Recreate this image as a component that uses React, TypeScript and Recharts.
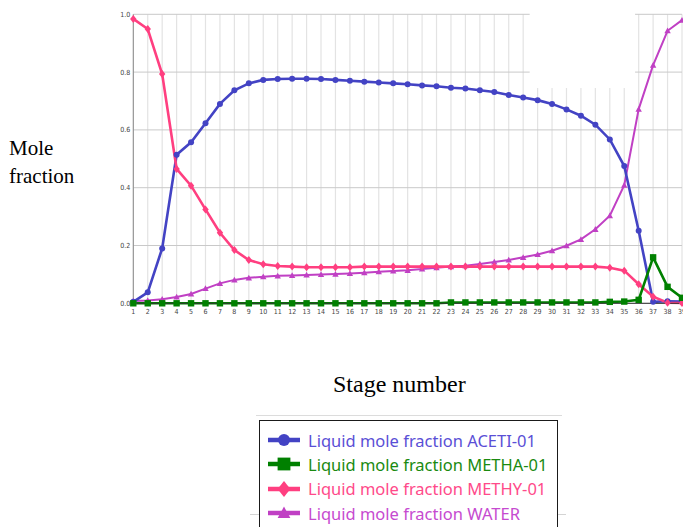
import React from 'react';
import { LineChart, Line, XAxis, YAxis, CartesianGrid, ReferenceArea, Legend } from 'recharts';

const stages = [1, 2, 3, 4, 5, 6, 7, 8, 9, 10, 11, 12, 13, 14, 15, 16, 17, 18, 19, 20, 21, 22, 23, 24, 25, 26, 27, 28, 29, 30, 31, 32, 33, 34, 35, 36, 37, 38, 39];

const aceti = [0.005, 0.038, 0.19, 0.514, 0.557, 0.623, 0.69, 0.737, 0.761, 0.773, 0.776, 0.777, 0.777, 0.776, 0.773, 0.77, 0.767, 0.764, 0.761, 0.758, 0.754, 0.751, 0.746, 0.743, 0.737, 0.731, 0.721, 0.712, 0.703, 0.69, 0.671, 0.649, 0.618, 0.567, 0.475, 0.251, 0.005, 0.007, 0.006];

const metha = [0, 0, 0, 0, 0, 0, 0, 0, 0, 0, 0, 0, 0, 0, 0, 0, 0, 0, 0, 0, 0, 0, 0.003, 0.003, 0.003, 0.003, 0.003, 0.003, 0.003, 0.003, 0.003, 0.003, 0.003, 0.005, 0.006, 0.012, 0.159, 0.057, 0.019];

const methy = [0.984, 0.949, 0.793, 0.465, 0.407, 0.325, 0.244, 0.184, 0.15, 0.135, 0.129, 0.127, 0.125, 0.125, 0.125, 0.125, 0.127, 0.127, 0.127, 0.127, 0.127, 0.127, 0.127, 0.127, 0.127, 0.127, 0.127, 0.127, 0.127, 0.127, 0.127, 0.127, 0.127, 0.123, 0.113, 0.066, 0.023, 0.002, 0.001];

const water = [0.008, 0.01, 0.014, 0.022, 0.032, 0.051, 0.069, 0.081, 0.088, 0.092, 0.095, 0.096, 0.098, 0.1, 0.101, 0.103, 0.106, 0.109, 0.112, 0.114, 0.119, 0.123, 0.127, 0.13, 0.136, 0.143, 0.15, 0.159, 0.169, 0.182, 0.199, 0.221, 0.256, 0.303, 0.409, 0.672, 0.824, 0.943, 0.98];

const yTicks = [0, 0.2, 0.4, 0.6, 0.8, 1.0];

const seriesKeys = ['aceti', 'metha', 'methy', 'water'];
const seriesNames = [
  'Liquid mole fraction ACETI-01',
  'Liquid mole fraction METHA-01',
  'Liquid mole fraction METHY-01',
  'Liquid mole fraction WATER',
];
const seriesColors = ['#4343c4', '#008000', '#ff3f80', '#c040c4'];
const textColors = ['#5a4fd6', '#1a8a10', '#ff4a8a', '#c64ad0'];
const seriesShapes = ['circle', 'square', 'diamond', 'triangle'];

const data = stages.map((s, i) => ({
  stage: s,
  aceti: aceti[i],
  metha: metha[i],
  methy: methy[i],
  water: water[i],
}));

function Marker({ shape, color, cx, cy, scale = 1 }: any) {
  if (cx == null || cy == null) return null;
  if (shape === 'circle') return <circle cx={cx} cy={cy} r={3 * scale} fill={color} />;
  if (shape === 'square') {
    const h = 3.2 * scale;
    return <rect x={cx - h} y={cy - h} width={2 * h} height={2 * h} fill={color} />;
  }
  if (shape === 'diamond') {
    const h = 4 * scale;
    return <polygon points={`${cx},${cy - h} ${cx + h * 0.8},${cy} ${cx},${cy + h} ${cx - h * 0.8},${cy}`} fill={color} />;
  }
  const h = 3.2 * scale;
  return <polygon points={`${cx},${cy - h} ${cx + h},${cy + h * 0.8} ${cx - h},${cy + h * 0.8}`} fill={color} />;
}

const tickFont = '"Liberation Sans Narrow", "DejaVu Sans Condensed", sans-serif';

function renderLegend() {
  return (
    <div style={{ position: 'relative', width: 310, height: 120 }}>
      <div style={{ position: 'absolute', left: 0, top: 0, width: 306, borderTop: '1px solid #dcdcdc' }} />
      <div style={{ position: 'absolute', left: -6, top: 99, width: 316, borderTop: '1px solid #d4d4d4' }} />
      <div
        style={{
          position: 'absolute',
          left: 3,
          top: 5,
          width: 299,
          height: 120,
          boxSizing: 'border-box',
          border: '1.5px solid #1a1a1a',
          background: '#fff',
        }}
      >
        {seriesNames.map((name, i) => (
          <div
            key={name}
            style={{
              position: 'absolute',
              left: 7,
              top: 7 + i * 24.4,
              height: 24,
              display: 'flex',
              alignItems: 'center',
              whiteSpace: 'nowrap',
            }}
          >
            <svg width={34} height={16} style={{ marginRight: 7 }}>
              <line x1={1} y1={8} x2={33} y2={8} stroke={seriesColors[i]} strokeWidth={4.5} />
              <Marker shape={seriesShapes[i]} color={seriesColors[i]} cx={17} cy={8} scale={2} />
            </svg>
            <span style={{ fontFamily: '"Noto Sans", "Open Sans", sans-serif', fontSize: 16.5, color: textColors[i] }}>
              {name}
            </span>
          </div>
        ))}
      </div>
    </div>
  );
}

const drawOrder = [3, 0, 2, 1];

export default function App() {
  return (
    <div style={{ position: 'absolute', left: 0, top: 0, width: 683, height: 527, overflow: 'hidden', background: '#fff' }}>
      <LineChart width={700} height={527} data={data} margin={{ top: 14.3, right: 18, bottom: 193.7, left: 0 }}>
        <CartesianGrid horizontal={false} stroke="#e3e3e3" strokeWidth={1.2} />
        <CartesianGrid vertical={false} stroke="#c9c9c9" strokeWidth={1} />
        <ReferenceArea x1={28.45} x2={35.75} y1={0.745} y2={1.05} fill="#ffffff" fillOpacity={1} stroke="none" ifOverflow="visible" />
        <XAxis
          dataKey="stage"
          type="number"
          domain={[1, 39]}
          ticks={stages}
          interval={0}
          height={30}
          tickLine={false}
          tickSize={4}
          tickMargin={2}
          axisLine={{ stroke: '#333', strokeWidth: 1 }}
          tick={{ fontSize: 7, fill: '#444', fontFamily: tickFont }}
          label={{
            content: (p: any) => {
              const vb = p.viewBox || { x: 0, y: 0 };
              return (
                <text x={vb.x + 199.7} y={vb.y + 89} fontFamily='"Liberation Serif", "Times New Roman", serif' fontSize={24} fill="#000">
                  Stage number
                </text>
              );
            },
          }}
        />
        <YAxis
          type="number"
          domain={[0, 1]}
          ticks={yTicks}
          width={133.3}
          tickLine={false}
          tickSize={2}
          tickMargin={1}
          axisLine={{ stroke: '#8a8a8a', strokeWidth: 1 }}
          tickFormatter={(v: number) => v.toFixed(1)}
          tick={{ fontSize: 7, fill: '#444', fontFamily: tickFont }}
          label={{
            content: (p: any) => {
              const vb = p.viewBox || { x: 0, y: 0 };
              return (
                <text x={vb.x + 9} y={vb.y + 141} fontFamily='"Liberation Serif", "Times New Roman", serif' fontSize={21} fill="#000">
                  <tspan x={vb.x + 9}>Mole</tspan>
                  <tspan x={vb.x + 9} dy={28}>fraction</tspan>
                </text>
              );
            },
          }}
        />
        <Legend
          layout="horizontal"
          verticalAlign="middle"
          align="center"
          wrapperStyle={{ left: 256, top: 415, width: 310, height: 120 }}
          content={renderLegend}
        />
        {drawOrder.map((i) => (
          <Line
            key={seriesKeys[i]}
            type="linear"
            dataKey={seriesKeys[i]}
            name={seriesNames[i]}
            stroke={seriesColors[i]}
            strokeWidth={i === 3 ? 2 : 2.6}
            isAnimationActive={false}
            activeDot={false}
            dot={(props: any) => (
              <Marker key={`${seriesKeys[i]}-${props.index}`} shape={seriesShapes[i]} color={seriesColors[i]} cx={props.cx} cy={props.cy} />
            )}
          />
        ))}
      </LineChart>
    </div>
  );
}
